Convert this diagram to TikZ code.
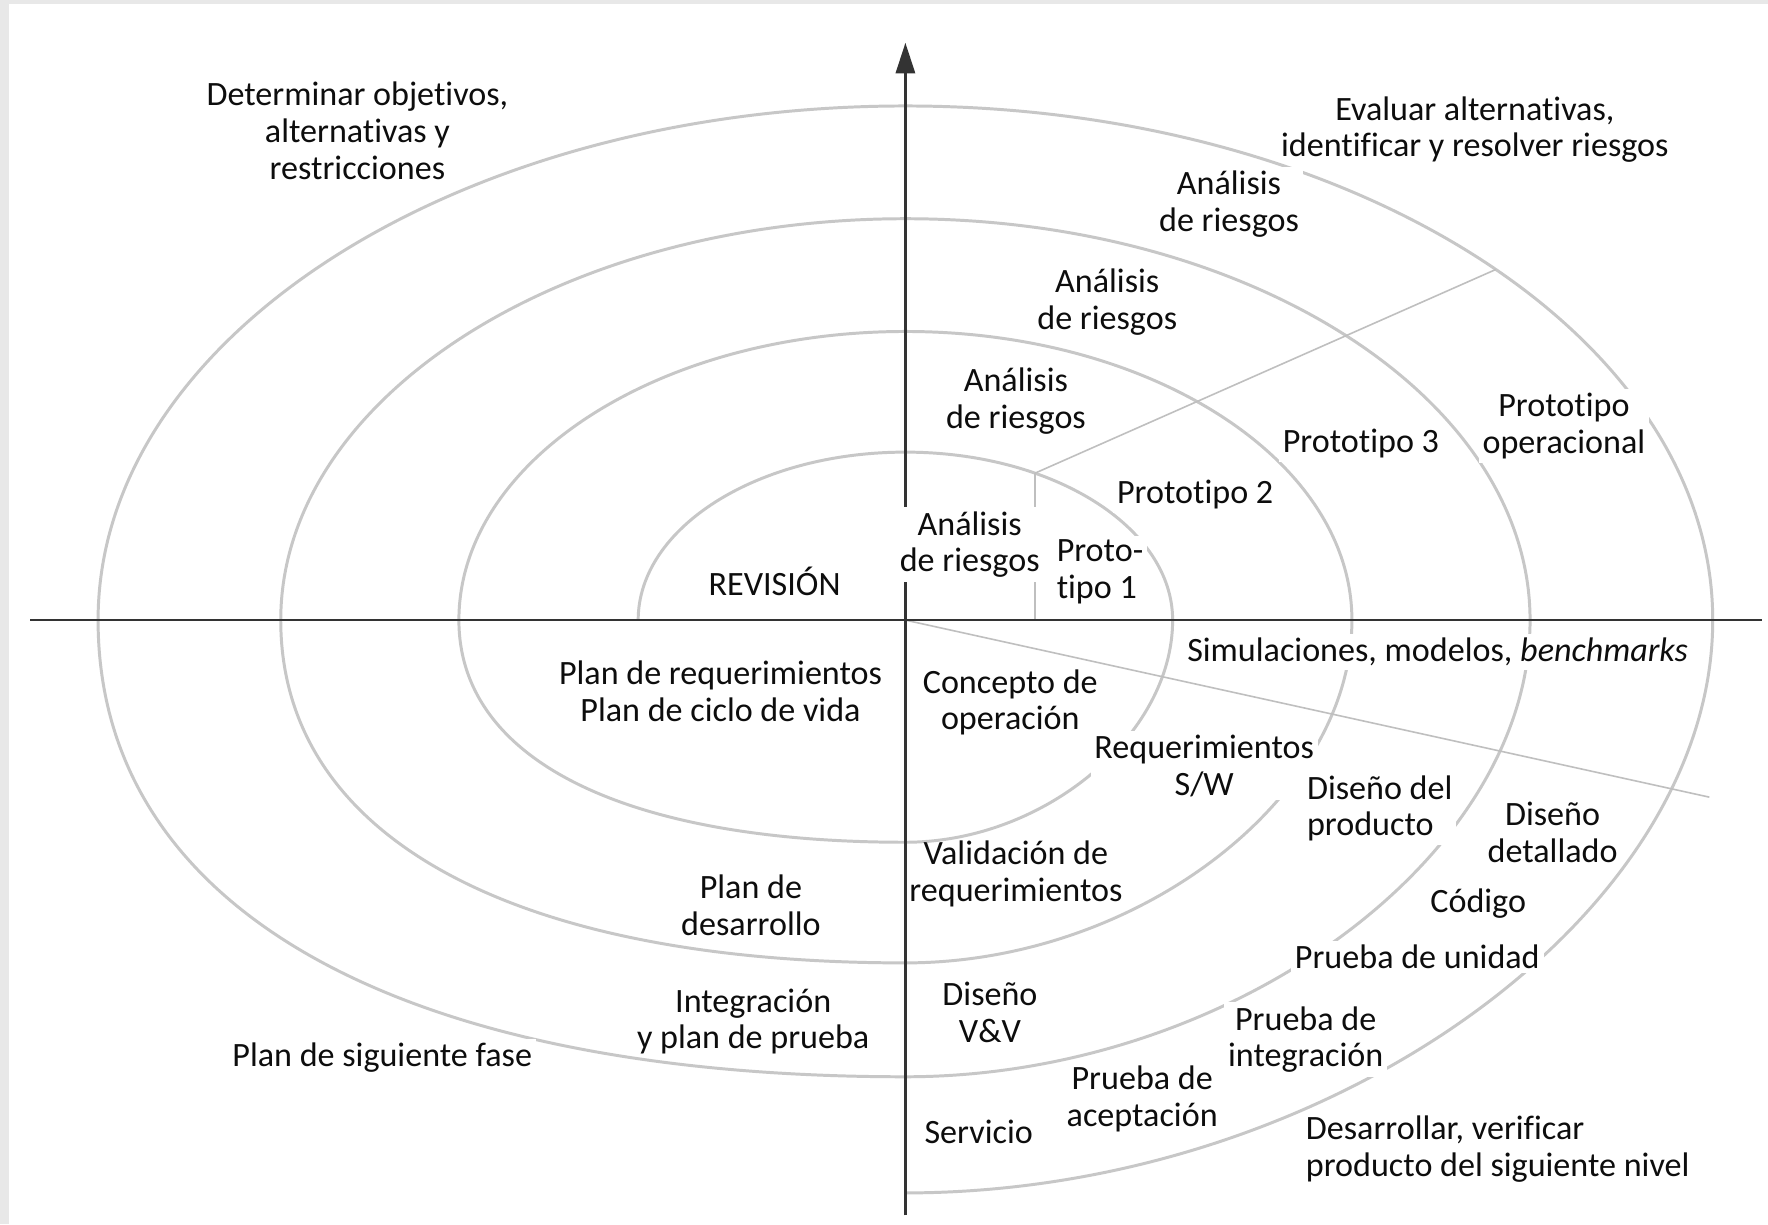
\documentclass[tikz,border=0pt]{standalone}
\usepackage{fontspec}
\setmainfont{Carlito}[Ligatures={NoCommon,NoContextual}]
\usetikzlibrary{arrows.meta}

\begin{document}
\begin{tikzpicture}[x=0.01cm,y=0.01cm,>={Triangle[length=2.7mm,width=1.7mm]},
		txt/.style={align=center,font=\fontsize{8.6}{9.3}\selectfont,text=black!95,fill=white,inner sep=1pt},
		spiral/.style={draw=black!22,line width=0.75pt},
		guide/.style={draw=black!25,line width=0.4pt},
		axis/.style={draw=black!80,line width=0.6pt}]
		% fondo y marco
		\fill[black!9] (-803,-536) rectangle (765,550);
		\fill[white] (-795,-536) rectangle (765,546);
		\useasboundingbox (-803,-536) rectangle (765,550);
		% espiral
		\draw[spiral] (-237,0)
		arc[start angle=180,end angle=0,x radius=237,y radius=149]
		.. controls (237,-102) and (123,-197) .. (0,-197)
		.. controls (-249,-197) and (-396,-124) .. (-396,0)
		arc[start angle=180,end angle=0,x radius=396,y radius=256]
		.. controls (396,-158) and (206,-304) .. (0,-304)
		.. controls (-349,-304) and (-554,-192) .. (-554,0)
		arc[start angle=180,end angle=0,x radius=554,y radius=356]
		.. controls (554,-211) and (288,-405) .. (0,-405)
		.. controls (-451,-405) and (-716,-255) .. (-716,0)
		arc[start angle=180,end angle=0,x radius=716,y radius=456]
		.. controls (716,-264) and (372,-508) .. (0,-508);
		\coordinate (o) at (0,0);
		\coordinate (xl) at (-776,0);
		\coordinate (xr) at (760,0);
		\coordinate (yb) at (0,-528);
		\coordinate (yt) at (0,512);
		\coordinate (c1) at ({237*cos(61)},{149*sin(61)});
		\coordinate (c2) at ({716*cos(43)},{456*sin(43)});
		\coordinate (c3) at (713,-157);
		\draw[guide] (c1) -- (c2);
		\draw[guide] (c1) -- (c1 |- o);
		\draw[guide] (o) -- (c3);
		\draw[axis] (xl) -- (xr);
		\draw[axis,->] (yb) -- (yt);
		% textos
		\node[txt,fill=none] (obj) at (-486,434) {Determinar objetivos,\\alternativas y\\restricciones};
		\node[txt,fill=none] (eval) at (505,435) {Evaluar alternativas,\\identificar y resolver riesgos};
		\node[txt] (ar4) at (287,369) {Análisis\\de riesgos};
		\node[txt] (ar3) at (179,282) {Análisis\\de riesgos};
		\node[txt] (ar2) at (98,194) {Análisis\\de riesgos};
		\node[txt] (ar1) at (57,67) {Análisis\\de riesgos};
		\node[txt] (rev) at (-116,34) {REVISIÓN};
		\node[txt,align=left,anchor=west] (pr1) at (130,43) {Proto-\\tipo 1};
		\node[txt] (pr2) at (257,111) {Prototipo 2};
		\node[txt] (pr3) at (404,157) {Prototipo 3};
		\node[txt] (prop) at (584,172) {Prototipo\\operacional};
		\node[txt] (sim) at (472,-28) {Simulaciones, modelos, \textit{benchmarks}};
		\node[txt] (preq) at (-164,-63) {Plan de requerimientos\\Plan de ciclo de vida};
		\node[txt] (conc) at (93,-73) {Concepto de\\operación};
		\node[txt] (rsw) at (265,-129) {Requerimientos\\S/W};
		\node[txt,align=left,anchor=west] (dprod) at (352,-167) {Diseño del\\producto};
		\node[txt] (ddet) at (574,-188) {Diseño\\detallado};
		\node[txt] (cod) at (508,-251) {Código};
		\node[txt] (punit) at (454,-299) {Prueba de unidad};
		\node[txt,fill=none] (vreq) at (98,-225) {Validación de\\requerimientos};
		\node[txt] (pdes) at (-137,-253) {Plan de\\desarrollo};
		\node[txt,fill=none] (intp) at (-135,-356) {Integración\\y plan de prueba};
		\node[txt] (dvv) at (75,-348) {Diseño\\V\&V};
		\node[txt] (pint) at (355,-372) {Prueba de\\integración};
		\node[txt] (pacep) at (210,-425) {Prueba de\\aceptación};
		\node[txt] (serv) at (65,-454) {Servicio};
		\node[txt] (psig) at (-464,-388) {Plan de siguiente fase};
		\node[txt,align=left,anchor=west] (desa) at (351,-469) {Desarrollar, verificar\\producto del siguiente nivel};
\end{tikzpicture}
\end{document}
